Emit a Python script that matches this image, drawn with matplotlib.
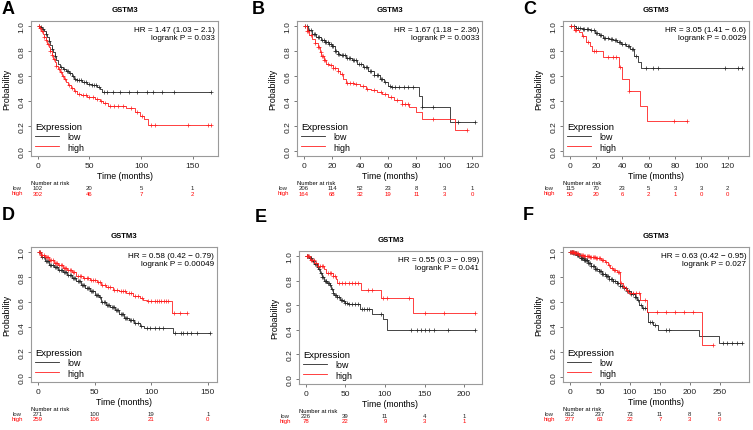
import numpy as np
import matplotlib
matplotlib.use('Agg')
import matplotlib.pyplot as plt
from matplotlib.lines import Line2D

plt.rcParams['font.family'] = ['Liberation Sans', 'DejaVu Sans']

W, H = 753, 431
gene = 'GSTM3'

# ---- panel A ----
a_low_t = [0, 2, 4, 6, 7.5, 9, 10.5, 12, 13.5, 15, 16.5, 18, 19.5, 21, 24, 27, 30, 33, 35, 38, 43,
           48, 52, 57, 60, 62, 168]
a_low_s = [1.0, 0.99, 0.98, 0.96, 0.94, 0.91, 0.88, 0.85, 0.82, 0.79, 0.76, 0.73, 0.70, 0.67, 0.655,
           0.64, 0.625, 0.60, 0.575, 0.565, 0.555, 0.54, 0.53, 0.51, 0.495, 0.47, 0.47]
a_low_c = [1, 3, 5, 8, 11, 14, 17, 22, 25, 28, 29, 31, 34, 36, 38, 40, 42, 45, 47, 50, 52, 54, 56, 59,
           64, 67, 73, 80, 88, 96, 106, 112, 120, 132, 168]
a_high_t = [0, 1.5, 3, 4.5, 6, 7.5, 9, 10.5, 12, 13.5, 15, 16.5, 18, 19.5, 21, 23, 25, 27, 29, 32, 35,
            38, 42, 48, 55, 60, 63, 68, 85, 94, 99, 103, 107, 168]
a_high_s = [1.0, 0.985, 0.96, 0.94, 0.915, 0.89, 0.86, 0.83, 0.80, 0.77, 0.74, 0.71, 0.68, 0.655, 0.63,
            0.60, 0.575, 0.55, 0.525, 0.505, 0.48, 0.46, 0.445, 0.43, 0.415, 0.40, 0.385, 0.36, 0.345,
            0.315, 0.28, 0.26, 0.21, 0.21]
a_high_c = [1, 2, 4, 6, 8, 10, 12, 14, 16, 18, 20, 22, 24, 26, 30, 33, 36, 40, 44, 47, 50, 53, 57, 61,
            65, 70, 74, 78, 83, 90, 96, 101, 110, 114, 146, 165, 168]
a_ticks = [0, 50, 100, 150]
a_risk_low = [102, 20, 5, 1]
a_risk_high = [302, 46, 7, 2]
a_hr = 'HR = 1.47 (1.03 \u2212 2.1)'
a_p = 'logrank P = 0.033'

# ---- panel B ----
b_low_t = [0, 3, 6, 9, 12, 15, 18, 20, 22, 24, 26, 30, 34, 38, 42, 46, 50, 54, 57, 60, 62, 82, 84,
           104, 122]
b_low_s = [1.0, 0.97, 0.94, 0.91, 0.89, 0.87, 0.855, 0.84, 0.80, 0.78, 0.765, 0.745, 0.725, 0.70,
           0.67, 0.64, 0.61, 0.58, 0.555, 0.52, 0.51, 0.44, 0.35, 0.235, 0.235]
b_low_c = [1, 2, 4, 5, 7, 8, 10, 11, 13, 14, 15, 16, 17, 18, 19, 20, 21, 22, 23, 24, 25, 27, 28, 29,
           31, 32, 33, 35, 36, 37, 39, 41, 43, 44, 45, 47, 48, 50, 52, 53, 55, 56, 58, 61, 63, 65, 68,
           71, 74, 78, 84, 92, 110, 122]
b_high_t = [0, 2, 4, 6, 8, 10, 11.5, 12.5, 14, 16, 18, 21, 24, 26, 28, 30, 36, 40, 44, 48, 52, 56,
            60, 64, 70, 75, 80, 84, 108, 116]
b_high_s = [1.0, 0.96, 0.93, 0.895, 0.865, 0.83, 0.79, 0.76, 0.73, 0.70, 0.685, 0.665, 0.64, 0.615,
            0.58, 0.545, 0.535, 0.52, 0.50, 0.49, 0.475, 0.455, 0.43, 0.41, 0.375, 0.355, 0.315, 0.26,
            0.17, 0.17]
b_high_c = [1, 2, 3, 5, 8, 10, 11, 12, 13, 13.5, 14, 15, 17, 19, 21, 22, 24, 27, 31, 33, 35, 37, 42,
            45, 50, 55, 58, 62, 66, 70, 72, 74, 92, 116]
b_ticks = [0, 20, 40, 60, 80, 100, 120]
b_risk_low = [206, 114, 52, 23, 8, 3, 1]
b_risk_high = [164, 68, 32, 19, 11, 3, 0]
b_hr = 'HR = 1.67 (1.18 \u2212 2.36)'
b_p = 'logrank P = 0.0033'

# ---- panel C ----
c_low_t = [0, 5, 10, 15, 19, 22, 25, 30, 33, 36, 39, 43, 46, 49, 52, 54, 131]
c_low_s = [1.0, 0.985, 0.975, 0.965, 0.945, 0.925, 0.905, 0.895, 0.885, 0.87, 0.855, 0.84, 0.82,
           0.76, 0.71, 0.665, 0.665]
c_low_c = [1, 3, 5, 6, 8, 10, 11, 13, 14, 16, 18, 20, 21, 23, 24, 26, 27, 29, 31, 32, 34, 35, 37, 38,
           40, 42, 44, 45, 47, 48, 50, 58, 63, 67, 118, 128, 131]
c_high_t = [0, 3, 7, 9, 12, 15, 17, 25, 37, 40, 45, 53, 59, 89]
c_high_s = [1.0, 0.97, 0.95, 0.92, 0.87, 0.84, 0.80, 0.755, 0.67, 0.575, 0.48, 0.36, 0.24, 0.24]
c_high_c = [1, 4, 5, 10, 14, 18, 20, 29, 33, 35, 38, 45, 79, 89]
c_ticks = [0, 20, 40, 60, 80, 100, 120]
c_risk_low = [115, 70, 23, 5, 3, 3, 2]
c_risk_high = [50, 20, 6, 2, 1, 0, 0]
c_hr = 'HR = 3.05 (1.41 \u2212 6.6)'
c_p = 'logrank P = 0.0029'

# ---- panel D ----
d_low_t = [0, 3, 6, 10, 14, 18, 22, 26, 30, 34, 38, 42, 46, 50, 54, 56, 60, 64, 68, 72, 76, 80, 85,
           90, 94, 119, 152]
d_low_s = [1.0, 0.96, 0.93, 0.90, 0.88, 0.86, 0.84, 0.815, 0.79, 0.765, 0.735, 0.71, 0.685, 0.66,
           0.64, 0.60, 0.575, 0.56, 0.54, 0.505, 0.475, 0.455, 0.43, 0.41, 0.39, 0.355, 0.355]
d_low_c = [1, 2, 4, 5, 7, 8, 9, 11, 12, 13, 15, 16, 17, 19, 20, 21, 23, 24, 25, 27, 28, 29, 31, 32,
           33, 35, 36, 37, 39, 40, 41, 43, 44, 45, 47, 48, 49, 51, 52, 53, 55, 57, 58, 59, 61, 62, 63,
           65, 66, 67, 69, 70, 71, 73, 74, 75, 77, 78, 79, 81, 82, 84, 86, 88, 91, 96, 99, 103, 107,
           110, 121, 126, 128, 132, 135, 140, 152]
d_high_t = [0, 3, 6, 10, 14, 18, 22, 26, 30, 34, 40, 46, 52, 56, 60, 66, 72, 78, 84, 90, 93, 96,
            118, 132]
d_high_s = [1.0, 0.98, 0.96, 0.94, 0.915, 0.895, 0.875, 0.86, 0.84, 0.81, 0.795, 0.78, 0.76, 0.735,
            0.72, 0.70, 0.685, 0.67, 0.65, 0.635, 0.62, 0.61, 0.51, 0.51]
d_high_c = [1, 2, 3, 4, 5, 7, 8, 9, 11, 12, 13, 15, 16, 17, 19, 20, 21, 23, 24, 25, 27, 28, 29, 31,
            32, 35, 37, 38, 41, 43, 44, 47, 49, 50, 53, 55, 57, 59, 62, 64, 67, 70, 73, 75, 77, 80, 82,
            86, 88, 92, 97, 100, 103, 105, 107, 109, 111, 113, 115, 120, 125, 132]
d_ticks = [0, 50, 100, 150]
d_risk_low = [271, 100, 19, 1]
d_risk_high = [259, 106, 21, 0]
d_hr = 'HR = 0.58 (0.42 \u2212 0.79)'
d_p = 'logrank P = 0.00049'

# ---- panel E ----
e_low_t = [0, 4, 8, 11, 14, 16, 18, 20, 23, 27, 30, 32, 34, 36, 39, 43, 47, 50, 53, 69, 84, 97, 103,
           214]
e_low_s = [1.0, 0.98, 0.96, 0.935, 0.91, 0.89, 0.86, 0.83, 0.80, 0.78, 0.76, 0.73, 0.70, 0.68, 0.665,
           0.645, 0.63, 0.615, 0.61, 0.57, 0.53, 0.49, 0.40, 0.40]
e_low_c = [1, 2, 3, 5, 6, 7, 9, 10, 12, 13, 15, 17, 19, 21, 22, 24, 25, 26, 28, 29, 31, 33, 35, 37,
           38, 40, 42, 44, 46, 48, 50, 52, 55, 58, 62, 66, 71, 74, 77, 80, 95, 133, 140, 145, 150, 156,
           162, 180, 214]
e_high_t = [0, 5, 11, 15, 23, 26, 34, 38, 40, 70, 95, 136, 214]
e_high_s = [1.0, 0.97, 0.945, 0.92, 0.89, 0.86, 0.84, 0.81, 0.78, 0.725, 0.66, 0.535, 0.535]
e_high_c = [1, 2, 3, 4, 6, 8, 10, 13, 16, 18, 20, 22, 28, 30, 32, 35, 37, 42, 46, 50, 54, 58, 62, 66,
            78, 84, 97, 102, 130, 150, 175, 214]
e_ticks = [0, 50, 100, 150, 200]
e_risk_low = [226, 39, 11, 4, 1]
e_risk_high = [78, 22, 9, 3, 1]
e_hr = 'HR = 0.55 (0.3 \u2212 0.99)'
e_p = 'logrank P = 0.041'

# ---- panel F ----
f_low_t = [0, 6, 12, 18, 24, 30, 36, 42, 48, 54, 60, 66, 72, 78, 84, 90, 96, 102, 108, 112, 116,
           120, 128, 131, 138, 147, 215, 249, 287]
f_low_s = [1.0, 0.99, 0.975, 0.955, 0.935, 0.91, 0.885, 0.865, 0.845, 0.825, 0.805, 0.785, 0.77,
           0.75, 0.73, 0.71, 0.69, 0.665, 0.64, 0.62, 0.58, 0.55, 0.52, 0.44, 0.42, 0.375, 0.33, 0.27,
           0.27]
f_low_c = [1, 2, 3, 4, 5, 6, 7, 8, 9, 10, 11, 12, 13, 14, 15, 16, 17, 18, 19, 20, 21, 22, 23, 24, 25,
           26, 27, 28, 29, 30, 32, 34, 36, 38, 40, 42, 44, 46, 48, 50, 52, 54, 56, 58, 60, 62, 64, 66,
           68, 70, 72, 75, 78, 81, 84, 87, 90, 93, 96, 99, 102, 105, 108, 110, 113, 118, 122, 125, 133,
           137, 142, 160, 165, 255, 262, 270, 278, 287]
f_high_t = [0, 8, 16, 24, 34, 44, 52, 58, 63, 67, 72, 78, 84, 88, 93, 97, 117, 128, 220, 238]
f_high_s = [1.0, 0.99, 0.98, 0.97, 0.96, 0.95, 0.935, 0.92, 0.895, 0.87, 0.855, 0.84, 0.75, 0.72,
            0.70, 0.675, 0.62, 0.52, 0.26, 0.26]
f_high_c = [1, 2, 3, 4, 5, 6, 7, 8, 9, 10, 12, 14, 16, 18, 20, 22, 24, 26, 28, 30, 32, 34, 36, 38, 40,
            42, 44, 46, 48, 50, 53, 56, 60, 65, 70, 74, 76, 80, 82, 86, 90, 95, 100, 105, 110, 115,
            125, 145, 160, 175, 190, 205, 238]
f_ticks = [0, 50, 100, 150, 200, 250]
f_risk_low = [812, 237, 73, 11, 8, 5]
f_risk_high = [277, 63, 22, 7, 3, 0]
f_hr = 'HR = 0.63 (0.42 \u2212 0.95)'
f_p = 'logrank P = 0.027'


def px_axes(fig, l, r, t, b):
    return fig.add_axes([l / W, 1 - b / H, (r - l) / W, (b - t) / H])


def censor_y(t, s, c):
    idx = np.searchsorted(t, c, side='right') - 1
    return np.asarray(s)[idx]


def draw_panel(ax, low, high, ticks, risk_low, risk_high, hr, p):
    low_col, high_col = '#262626', '#ff2020'
    for (t, s, c), col in [(low, low_col), (high, high_col)]:
        ax.step(t, s, where='post', color=col, lw=0.6)
        ax.plot(c, censor_y(t, s, c), ls='none', marker='+', ms=3.2, mew=0.5, color=col)
    tmax = max(low[0][-1], high[0][-1])
    ax.set_xlim(-0.04 * tmax, 1.04 * tmax)
    ax.set_ylim(-0.04, 1.04)
    ax.set_xticks(ticks)
    ax.set_yticks([0, 0.2, 0.4, 0.6, 0.8, 1.0])
    ax.set_yticklabels(['0.0', '0.2', '0.4', '0.6', '0.8', '1.0'])
    ax.tick_params(length=2.5, width=0.5, color='#444444', labelsize=6, pad=1.5,
                   labelcolor='#222222')
    for lab in ax.get_yticklabels():
        lab.set_rotation(90)
        lab.set_va('center')
    for sp in ax.spines.values():
        sp.set_color('#9a9a9a')
        sp.set_linewidth(0.8)
    ax.set_title(gene, fontsize=5.6, fontweight='bold', pad=7)
    ax.set_xlabel('Time (months)', fontsize=6.3, labelpad=2)
    ax.set_ylabel('Probability', fontsize=6.3, labelpad=5)

    ax.annotate(hr, xy=(1, 1), xycoords='axes fraction', xytext=(-2, -8.7 * 0.72),
                textcoords='offset points', ha='right', va='center', fontsize=5.9)
    ax.annotate(p, xy=(1, 1), xycoords='axes fraction', xytext=(-2, -17 * 0.72),
                textcoords='offset points', ha='right', va='center', fontsize=5.9)

    handles = [Line2D([], [], color=low_col, lw=0.6), Line2D([], [], color=high_col, lw=0.6)]
    leg = ax.legend(handles, ['low', 'high'], title='Expression', loc='lower left',
                    frameon=False, fontsize=6.4, title_fontsize=6.8, handlelength=2.6,
                    handletextpad=1.0, labelspacing=0.15, borderaxespad=0.3,
                    borderpad=0.2, alignment='left')
    leg._legend_box.sep = 1

    # number at risk table
    xt = ax.get_xaxis_transform()
    ax.annotate('Number at risk', xy=(0, 0), xycoords='axes fraction', xytext=(0, -26.3 * 0.72),
                textcoords='offset points', ha='left', va='center', fontsize=4.2, annotation_clip=False)
    for tk, nl, nh in zip(ticks, risk_low, risk_high):
        ax.annotate(str(nl), xy=(tk, 0), xycoords=xt, xytext=(0, -31.3 * 0.72),
                    textcoords='offset points', ha='center', va='center', fontsize=4.3,
                    color='#222222', annotation_clip=False)
        ax.annotate(str(nh), xy=(tk, 0), xycoords=xt, xytext=(0, -37 * 0.72),
                    textcoords='offset points', ha='center', va='center', fontsize=4.3,
                    color='red', annotation_clip=False)
    ax.annotate('low', xy=(0, 0), xycoords='axes fraction', xytext=(-14 * 0.72, -31.3 * 0.72),
                textcoords='offset points', ha='center', va='center', fontsize=4.3,
                color='#222222', annotation_clip=False)
    ax.annotate('high', xy=(0, 0), xycoords='axes fraction', xytext=(-14 * 0.72, -37 * 0.72),
                textcoords='offset points', ha='center', va='center', fontsize=4.3,
                color='red', annotation_clip=False)


fig = plt.figure(figsize=(W / 100, H / 100), dpi=100)

panels = [
    ('A', (31, 218, 22, 157), (8, 9),
     (a_low_t, a_low_s, a_low_c), (a_high_t, a_high_s, a_high_c), a_ticks, a_risk_low, a_risk_high, a_hr, a_p),
    ('B', (297, 482, 22, 157), (258, 9),
     (b_low_t, b_low_s, b_low_c), (b_high_t, b_high_s, b_high_c), b_ticks, b_risk_low, b_risk_high, b_hr, b_p),
    ('C', (563, 749, 22, 157), (530, 9),
     (c_low_t, c_low_s, c_low_c), (c_high_t, c_high_s, c_high_c), c_ticks, c_risk_low, c_risk_high, c_hr, c_p),
    ('D', (31, 217, 248, 383), (8, 216),
     (d_low_t, d_low_s, d_low_c), (d_high_t, d_high_s, d_high_c), d_ticks, d_risk_low, d_risk_high, d_hr, d_p),
    ('E', (299, 482, 252, 385), (261, 218),
     (e_low_t, e_low_s, e_low_c), (e_high_t, e_high_s, e_high_c), e_ticks, e_risk_low, e_risk_high, e_hr, e_p),
    ('F', (563, 749, 248, 383), (528, 216),
     (f_low_t, f_low_s, f_low_c), (f_high_t, f_high_s, f_high_c), f_ticks, f_risk_low, f_risk_high, f_hr, f_p),
]

for letter, box, lpos, low, high, ticks, rl, rh, hr, p in panels:
    ax = px_axes(fig, *box)
    draw_panel(ax, low, high, ticks, rl, rh, hr, p)
    fig.text(lpos[0] / W, 1 - lpos[1] / H, letter, fontsize=13, fontweight='bold',
             ha='center', va='center')

fig.savefig('out.png', dpi=100)
